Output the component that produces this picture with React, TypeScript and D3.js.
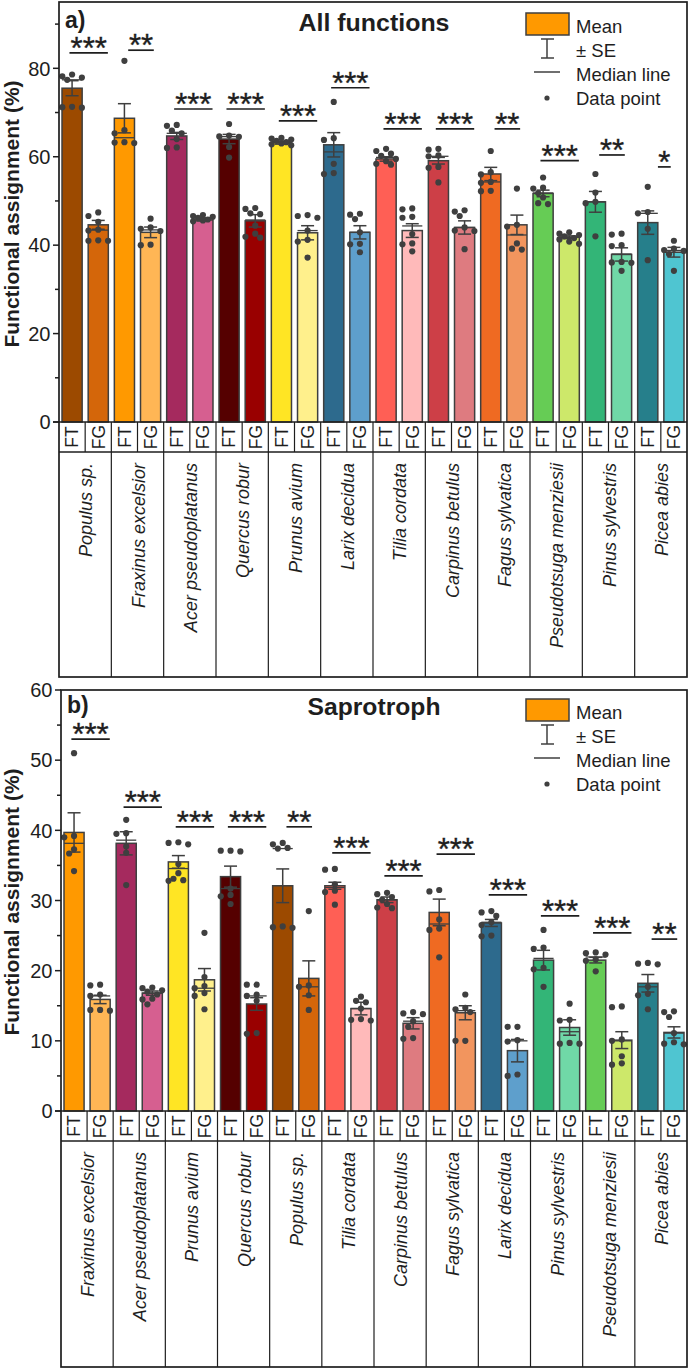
import React from 'react';
import * as d3 from 'd3';

// ---------- DATA ----------
const speciesColors: Record<string, [string, string]> = {
  'Populus sp.': ['#9C4A00', '#D4660A'],
  'Fraxinus excelsior': ['#FF9900', '#FFB655'],
  'Acer pseudoplatanus': ['#A52A5E', '#D65F90'],
  'Quercus robur': ['#550000', '#990000'],
  'Prunus avium': ['#FFE524', '#FFF08C'],
  'Larix decidua': ['#2D6A8D', '#5E9FCC'],
  'Tilia cordata': ['#FF5F55', '#FFBABA'],
  'Carpinus betulus': ['#CD3F47', '#DE7B80'],
  'Fagus sylvatica': ['#EF6A22', '#F2955E'],
  'Pseudotsuga menziesii': ['#66CC55', '#CDE86A'],
  'Pinus sylvestris': ['#33B577', '#70D8A7'],
  'Picea abies': ['#267F8B', '#4FC5D1'],
};

const groupLabels = ['FT', 'FG'];

// Panel a) All functions
const speciesA = ['Populus sp.', 'Fraxinus excelsior', 'Acer pseudoplatanus', 'Quercus robur', 'Prunus avium', 'Larix decidua', 'Tilia cordata', 'Carpinus betulus', 'Fagus sylvatica', 'Pseudotsuga menziesii', 'Pinus sylvestris', 'Picea abies'];
const meanFT_A = [75.5, 68.7, 64.7, 64.0, 63.2, 62.7, 59.5, 59.1, 56.1, 51.7, 49.8, 45.1];
const meanFG_A = [44.6, 42.9, 45.7, 45.5, 42.8, 42.9, 43.3, 44.0, 44.6, 41.8, 37.9, 38.4];
const seFT_A = [1.7, 3.3, 0.8, 1.05, 0.35, 2.75, 0.5, 0.75, 1.5, 0.75, 2.35, 2.65];
const seFG_A = [1.0, 1.2, 0.25, 1.4, 1.6, 1.5, 1.55, 1.5, 2.2, 0.3, 1.5, 1.1];
const ptsFT_A = [
  [78.6, 78.2, 77.9, 77.4, 71.3, 71.2, 71.1],
  [81.7, 66.0, 65.3, 63.3, 63.2, 63.1],
  [67.2, 67.0, 65.9, 65.3, 64.0, 62.1, 62.0],
  [67.4, 64.8, 64.6, 64.5, 62.2, 59.8],
  [64.3, 64.1, 63.9, 63.6, 63.3, 63.0, 62.8, 62.6],
  [72.4, 64.2, 63.8, 58.4, 56.3, 56.1],
  [61.8, 61.3, 60.7, 60.2, 59.5, 59.0, 58.4, 58.2],
  [61.8, 61.6, 60.3, 60.1, 57.7, 57.5, 54.2],
  [61.3, 56.5, 56.0, 54.3, 54.1, 52.3, 52.2],
  [55.3, 53.0, 52.8, 51.8, 50.8, 49.5, 49.3],
  [56.1, 51.9, 49.8, 49.5, 42.0],
  [53.2, 47.5, 47.2, 43.7, 36.6],
];
const ptsFG_A = [
  [47.4, 46.6, 45.3, 43.5, 43.3, 41.0, 41.0, 41.1],
  [46.0, 44.0, 43.7, 43.2, 40.1, 40.0],
  [46.8, 46.6, 46.4, 46.2, 45.8, 45.6, 45.4],
  [48.4, 48.2, 47.2, 47.0, 44.4, 42.6, 41.9, 41.7],
  [46.8, 46.6, 46.2, 43.3, 41.2, 40.8, 37.2],
  [47.1, 46.9, 45.9, 42.9, 40.3, 40.2, 38.4],
  [48.3, 48.1, 46.4, 46.2, 42.5, 40.4, 40.2, 38.6],
  [47.9, 47.6, 46.6, 44.0, 43.3, 43.2, 39.1],
  [52.8, 44.6, 44.2, 40.4, 39.2, 39.0],
  [42.9, 42.6, 42.3, 42.0, 41.6, 41.3, 40.8, 40.3],
  [42.6, 42.4, 40.0, 39.8, 36.2, 36.0, 36.1, 34.2],
  [41.0, 39.2, 38.9, 38.7, 38.0, 34.2],
];
const starsA = ['***', '**', '***', '***', '***', '***', '***', '***', '**', '***', '**', '*'];
const starLevelA = [83.5, 84.1, 70.8, 70.8, 68.1, 75.6, 66.3, 66.3, 66.3, 59.1, 60.4, 57.7];
const ticksA = [0, 20, 40, 60, 80];
const minorTicksA = [10, 30, 50, 70, 90];

// Panel b) Saprotroph
const speciesB = ['Fraxinus excelsior', 'Acer pseudoplatanus', 'Prunus avium', 'Quercus robur', 'Populus sp.', 'Tilia cordata', 'Carpinus betulus', 'Fagus sylvatica', 'Larix decidua', 'Pinus sylvestris', 'Pseudotsuga menziesii', 'Picea abies'];
const meanFT_B = [39.7, 38.15, 35.5, 33.4, 32.1, 32.1, 30.1, 28.3, 26.8, 21.5, 21.5, 18.2];
const meanFG_B = [15.9, 16.8, 18.7, 15.25, 18.9, 14.6, 12.5, 14.0, 8.6, 11.9, 10.1, 11.2];
const seFT_B = [2.8, 1.65, 0.9, 1.5, 2.4, 0.5, 0.4, 1.9, 0.5, 1.4, 0.4, 1.25];
const seFG_B = [0.6, 0.3, 1.6, 0.9, 2.5, 0.9, 0.8, 1.0, 1.6, 1.1, 1.2, 0.8];
const ptsFT_B = [
  [51.0, 39.2, 39.0, 37.3, 36.7, 34.2],
  [41.5, 39.6, 39.5, 37.7, 36.8, 32.2],
  [38.3, 38.2, 38.0, 35.2, 33.9, 33.1, 32.9, 32.8],
  [37.1, 37.1, 37.0, 31.7, 30.8, 30.6, 29.5],
  [38.2, 38.0, 37.5, 37.4, 26.3, 26.2, 26.1],
  [34.5, 34.4, 32.3, 31.4, 31.2, 29.4],
  [31.1, 30.9, 30.5, 30.1, 29.5, 29.0, 28.9],
  [31.5, 31.3, 27.3, 26.0, 25.8, 21.9],
  [28.5, 28.3, 27.8, 26.9, 26.5, 25.0, 24.9],
  [25.8, 23.3, 23.1, 20.4, 20.2, 17.7],
  [22.6, 22.5, 22.3, 21.6, 21.4, 19.9],
  [21.1, 21.0, 20.9, 17.7, 16.7, 16.5, 14.5],
];
const ptsFG_B = [
  [18.0, 17.9, 16.6, 16.4, 14.4, 14.4, 14.3],
  [17.6, 17.5, 17.2, 17.0, 16.6, 16.0, 15.9, 15.2],
  [25.4, 19.1, 17.8, 17.5, 16.8, 16.4, 14.5],
  [18.0, 18.0, 16.6, 16.4, 15.7, 11.1, 11.0],
  [28.5, 17.9, 17.7, 16.5, 14.4],
  [16.3, 15.7, 15.5, 14.6, 13.1, 13.0, 12.9],
  [14.1, 13.9, 13.8, 12.8, 12.0, 10.4, 10.3],
  [16.6, 14.7, 14.5, 14.1, 10.0, 10.0],
  [12.0, 12.0, 10.1, 9.9, 5.2, 5.0],
  [15.3, 13.0, 12.9, 9.7, 9.6, 9.6],
  [14.9, 14.8, 10.2, 10.0, 7.8, 6.8, 6.6],
  [14.2, 14.1, 13.4, 11.1, 9.8, 9.6, 9.5],
];
const starsB = ['***', '***', '***', '***', '**', '***', '***', '***', '***', '***', '***', '**'];
const starLevelB = [53.0, 43.3, 40.5, 40.5, 40.5, 36.8, 33.5, 36.6, 30.8, 27.8, 25.4, 24.5];
const ticksB = [0, 10, 20, 30, 40, 50, 60];
const minorTicksB = [5, 15, 25, 35, 45, 55];

const legendLabels = ['Mean', '± SE', 'Median line', 'Data point'];

// ---------- DRAWING ----------
const FONT = 'Liberation Sans, Arial, Helvetica, sans-serif';
const INK = '#1e1e1e';
const MARK = '#3f3f3f';
const R = 3.1;

function dodge(vals: number[], yf: (v: number) => number): number[] {
  const placed: { x: number; y: number }[] = [];
  const step = 4.9;
  const cands = [0, -1, 1, -2, 2].map((k) => k * step);
  const order = vals.map((v, i) => ({ v, i })).sort((a, b) => b.v - a.v);
  const out: number[] = new Array(vals.length).fill(0);
  for (const { v, i } of order) {
    const py = yf(v);
    let best = 0;
    let bestD = -1;
    for (const c of cands) {
      const d = placed.length ? Math.min(...placed.map((p) => Math.hypot(p.x - c, p.y - py))) : Infinity;
      if (d >= 2 * R) { best = c; bestD = d; break; }
      if (d > bestD) { bestD = d; best = c; }
    }
    placed.push({ x: best, y: py });
    out[i] = best;
  }
  return out;
}

type PanelProps = {
  top: number; left: number; right: number; zeroY: number; yMax: number;
  speciesBottom: number; species: string[];
  meanFT: number[]; meanFG: number[]; seFT: number[]; seFG: number[];
  ptsFT: number[][]; ptsFG: number[][]; stars: string[]; starLevel: number[];
  ticks: number[]; minor: number[]; letter: string; title: string;
  letterBase: number; titleBase: number; titleWidth: number; legendTop: number; labelCenterY: number;
};

function Panel(p: PanelProps) {
  const rowH = 30;
  const y = d3.scaleLinear().domain([0, p.yMax]).range([p.zeroY, p.top]);
  const cats = p.species.flatMap((_, i) => [`${i}-FT`, `${i}-FG`]);
  const x = d3.scaleBand<string>().domain(cats).range([p.left, p.right]).paddingInner(0.23).paddingOuter(0.115);
  const step = x.step();
  const bw = x.bandwidth();
  const groupX = d3.scaleBand<string>().domain(p.species).range([p.left, p.right]);

  const bars = p.species.flatMap((s, i) => [
    { key: `${i}-FT`, color: speciesColors[s][0], mean: p.meanFT[i], se: p.seFT[i], pts: p.ptsFT[i] },
    { key: `${i}-FG`, color: speciesColors[s][1], mean: p.meanFG[i], se: p.seFG[i], pts: p.ptsFG[i] },
  ]);

  const lt = p.legendTop;
  const titleCx = 374;

  return (
    <g>
      {/* bars */}
      {bars.map((b) => {
        const x0 = x(b.key)!;
        const cx = x0 + bw / 2;
        const med = d3.median(b.pts)!;
        const offs = dodge(b.pts, (v) => y(v));
        return (
          <g key={b.key}>
            <rect x={x0} y={y(b.mean)} width={bw} height={y(0) - y(b.mean)} fill={b.color} stroke={MARK} strokeWidth={1.5} />
            <line x1={x0} x2={x0 + bw} y1={y(med)} y2={y(med)} stroke={MARK} strokeWidth={1.3} />
            <line x1={cx} x2={cx} y1={y(b.mean + b.se)} y2={y(b.mean - b.se)} stroke={MARK} strokeWidth={1.5} />
            <line x1={cx - 6.5} x2={cx + 6.5} y1={y(b.mean + b.se)} y2={y(b.mean + b.se)} stroke={MARK} strokeWidth={1.5} />
            <line x1={cx - 6.5} x2={cx + 6.5} y1={y(b.mean - b.se)} y2={y(b.mean - b.se)} stroke={MARK} strokeWidth={1.5} />
            {b.pts.map((v, k) => (
              <circle key={k} cx={cx + offs[k]} cy={y(v)} r={R} fill={MARK} />
            ))}
          </g>
        );
      })}

      {/* significance */}
      {p.species.map((s, i) => {
        const gc = groupX(s)! + groupX.bandwidth() / 2 + 3.5;
        const w = p.stars[i].length * 12.8;
        const ly = y(p.starLevel[i]);
        return (
          <g key={`sig-${i}`}>
            <line x1={gc - w / 2} x2={gc + w / 2} y1={ly} y2={ly} stroke={INK} strokeWidth={1.7} />
            <text x={gc} y={ly + 6} textAnchor="middle" fontSize={31} fontFamily={FONT} fill={INK} stroke={INK} strokeWidth={0.4}>{p.stars[i]}</text>
          </g>
        );
      })}

      {/* frame and table */}
      <rect x={p.left} y={p.top} width={p.right - p.left} height={p.speciesBottom - p.top} fill="none" stroke={INK} strokeWidth={1.7} />
      <line x1={p.left - 6} x2={p.right} y1={p.zeroY} y2={p.zeroY} stroke={INK} strokeWidth={1.6} />
      <line x1={p.left} x2={p.right} y1={p.zeroY + rowH} y2={p.zeroY + rowH} stroke={INK} strokeWidth={1.4} />
      {cats.map((c, i) => (
        i > 0 ? <line key={`cl-${c}`} x1={p.left + i * step} x2={p.left + i * step} y1={p.zeroY} y2={p.zeroY + rowH} stroke={INK} strokeWidth={1.2} /> : null
      ))}
      {cats.map((c, i) => {
        const cx = x(c)! + bw / 2;
        return (
          <text key={`ft-${c}`} transform={`translate(${cx},${p.zeroY + rowH / 2}) rotate(-90)`} textAnchor="middle" dy="0.36em" fontSize={17.5} fontFamily={FONT} fill={INK}>
            {groupLabels[i % 2]}
          </text>
        );
      })}
      {p.species.map((s, i) => (
        i > 0 ? <line key={`sl-${s}`} x1={groupX(s)!} x2={groupX(s)!} y1={p.zeroY + rowH} y2={p.speciesBottom} stroke={INK} strokeWidth={1.2} /> : null
      ))}
      {p.species.map((s) => {
        const gc = groupX(s)! + groupX.bandwidth() / 2;
        return (
          <text key={`sp-${s}`} transform={`translate(${gc + 7},${p.zeroY + rowH + 11}) rotate(-90)`} textAnchor="end" fontSize={18} fontStyle="italic" fontFamily={FONT} fill={INK}>
            {s}
          </text>
        );
      })}

      {/* y axis */}
      {p.ticks.map((t) => (
        <g key={`t-${t}`}>
          <line x1={p.left - 6} x2={p.left} y1={y(t)} y2={y(t)} stroke={INK} strokeWidth={1.5} />
          <text x={p.left - 8.5} y={y(t)} dy="0.36em" textAnchor="end" fontSize={20} fontFamily={FONT} fill={INK}>{t}</text>
        </g>
      ))}
      {p.minor.map((t) => (
        <line key={`m-${t}`} x1={p.left - 4} x2={p.left} y1={y(t)} y2={y(t)} stroke={INK} strokeWidth={1.5} />
      ))}
      <text transform={`translate(19,${p.labelCenterY}) rotate(-90)`} textAnchor="middle" fontSize={21} fontWeight="bold" fontFamily={FONT} fill={INK}>
        Functional assignment (%)
      </text>

      {/* titles */}
      <text x={p.left + 6} y={p.letterBase} fontSize={23} fontWeight="bold" fontFamily={FONT} fill={INK}>{p.letter}</text>
      <text x={titleCx} y={p.titleBase} textAnchor="middle" fontSize={23} fontWeight="bold" fontFamily={FONT} fill={INK} textLength={p.titleWidth} lengthAdjust="spacingAndGlyphs">{p.title}</text>

      {/* legend */}
      <rect x={526} y={lt} width={43} height={22} fill="#FF9900" stroke={MARK} strokeWidth={1.5} />
      <line x1={547} x2={547} y1={lt + 26} y2={lt + 45} stroke={MARK} strokeWidth={1.5} />
      <line x1={541} x2={554} y1={lt + 26} y2={lt + 26} stroke={MARK} strokeWidth={1.5} />
      <line x1={541} x2={554} y1={lt + 45} y2={lt + 45} stroke={MARK} strokeWidth={1.5} />
      <line x1={534} x2={560} y1={lt + 59} y2={lt + 59} stroke={MARK} strokeWidth={1.5} />
      <circle cx={547} cy={lt + 85} r={2.6} fill={MARK} />
      {legendLabels.map((l, i) => (
        <text key={l} x={576} y={lt + 19.5 + i * 24} fontSize={18.5} fontFamily={FONT} fill={INK}>{l}</text>
      ))}
    </g>
  );
}

export default function App() {
  return (
    <svg width={691} height={1369} viewBox="0 0 691 1369" style={{ position: 'absolute', left: 0, top: 0, background: '#fff' }}>
      <rect x={0} y={0} width={691} height={1369} fill="#fff" />
      <Panel
        top={2} left={59} right={687} zeroY={422} yMax={95} speciesBottom={677}
        species={speciesA} meanFT={meanFT_A} meanFG={meanFG_A} seFT={seFT_A} seFG={seFG_A}
        ptsFT={ptsFT_A} ptsFG={ptsFG_A} stars={starsA} starLevel={starLevelA}
        ticks={ticksA} minor={minorTicksA} letter="a)" title="All functions"
        letterBase={28} titleBase={31} titleWidth={151} legendTop={13} labelCenterY={214}
      />
      <Panel
        top={690} left={61} right={687} zeroY={1111} yMax={60} speciesBottom={1367}
        species={speciesB} meanFT={meanFT_B} meanFG={meanFG_B} seFT={seFT_B} seFG={seFG_B}
        ptsFT={ptsFT_B} ptsFG={ptsFG_B} stars={starsB} starLevel={starLevelB}
        ticks={ticksB} minor={minorTicksB} letter="b)" title="Saprotroph"
        letterBase={713} titleBase={715} titleWidth={133} legendTop={699} labelCenterY={902}
      />
    </svg>
  );
}
